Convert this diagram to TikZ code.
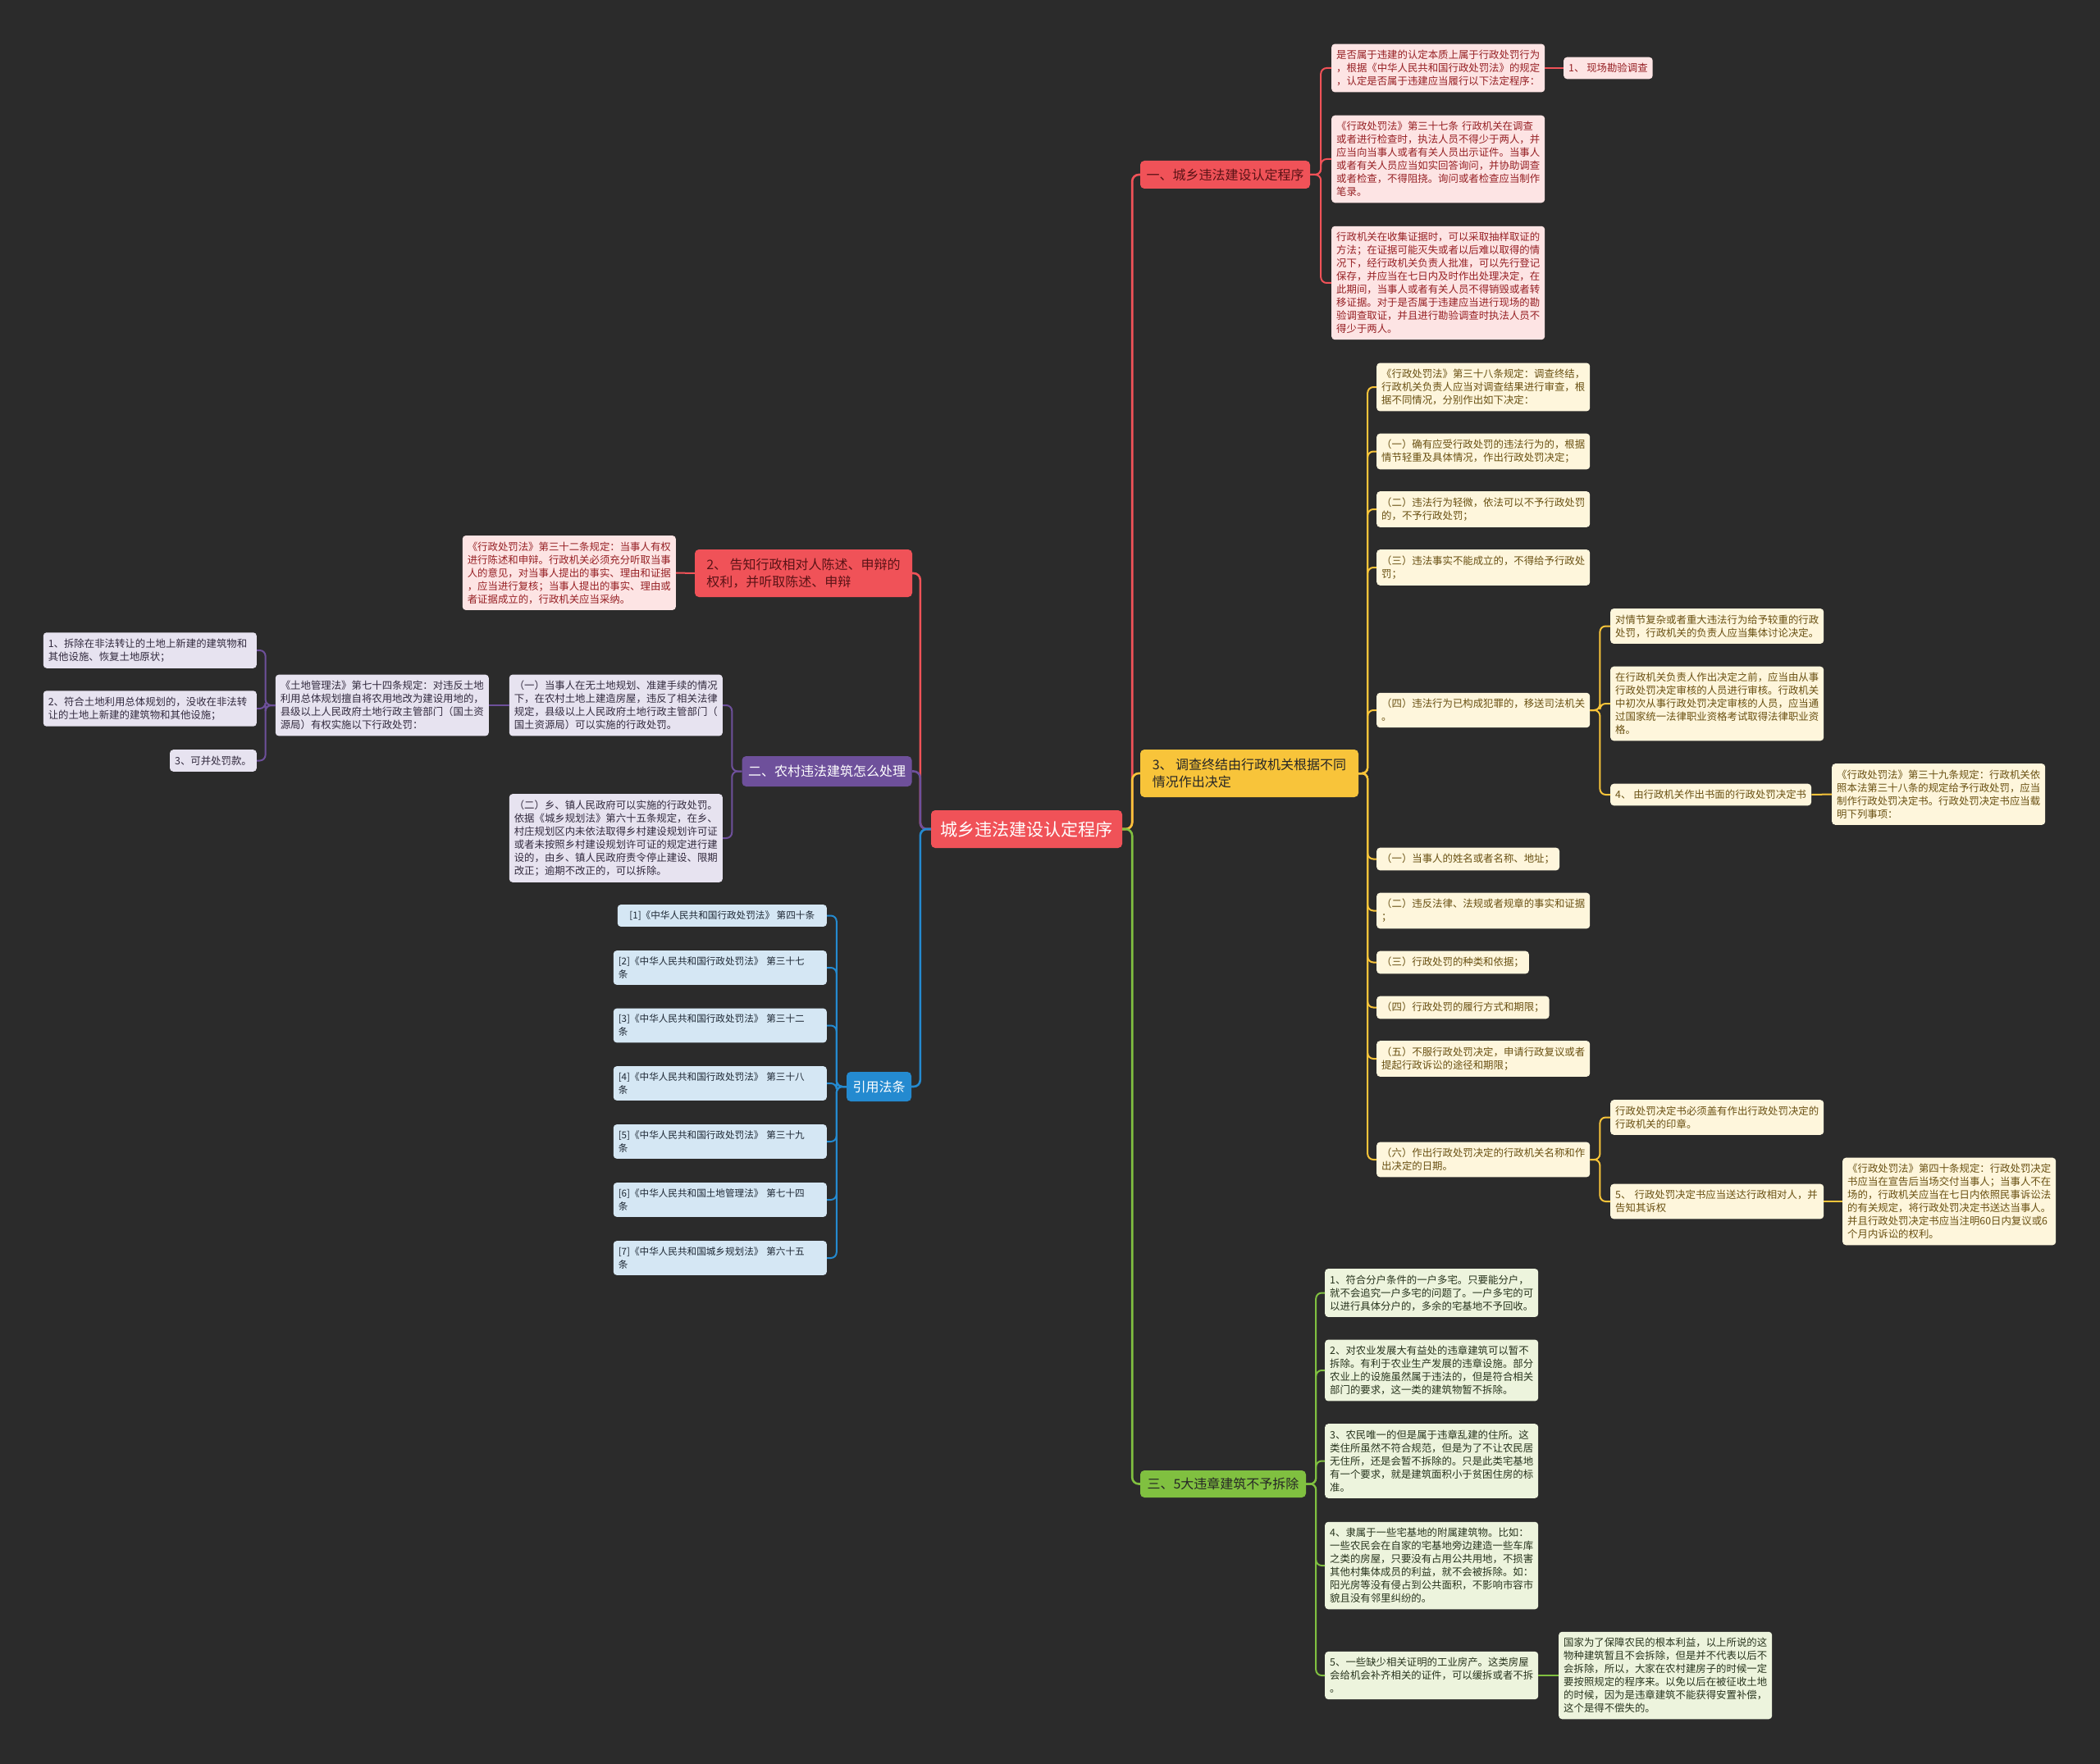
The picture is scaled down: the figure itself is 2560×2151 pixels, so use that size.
\documentclass[tikz,border=0pt]{standalone}
\usepackage{fontspec}
\setmainfont{Noto Sans CJK SC}
\definecolor{bgdark}{RGB}{43,43,43}
\definecolor{mapred}{RGB}{240,82,88}
\definecolor{redink}{RGB}{150,32,36}
\definecolor{redpale}{RGB}{253,228,228}
\definecolor{mapyel}{RGB}{248,196,58}
\definecolor{yelink}{RGB}{105,80,18}
\definecolor{yelpale}{RGB}{254,246,220}
\definecolor{mapgrn}{RGB}{128,192,64}
\definecolor{grnink}{RGB}{40,52,30}
\definecolor{grnpale}{RGB}{237,244,221}
\definecolor{mappur}{RGB}{110,80,155}
\definecolor{purink}{RGB}{50,42,62}
\definecolor{purpale}{RGB}{231,227,240}
\definecolor{mapblu}{RGB}{36,138,208}
\definecolor{bluink}{RGB}{30,40,52}
\definecolor{blupale}{RGB}{213,231,244}
\begin{document}
\begin{tikzpicture}[x=1pt, y=-1pt,
    every node/.append style={rounded corners=4pt, inner xsep=6pt, inner ysep=7.5pt, align=left},
    leaf/.style={font=\fontsize{12.4}{16}\selectfont},
    root/.style={fill=mapred, text=white, font=\fontsize{21}{25}\selectfont,
      minimum width=233pt, minimum height=46pt, align=center, rounded corners=5pt},
    branch/.style={font=\fontsize{16}{20.5}\selectfont, inner xsep=7pt, inner ysep=6pt, rounded corners=5pt},
    redbranch/.style={branch, fill=mapred, text=redink!60!black},
    yelbranch/.style={branch, fill=mapyel, text=black!85},
    grnbranch/.style={branch, fill=mapgrn, text=black!85},
    purbranch/.style={branch, fill=mappur, text=white},
    blubranch/.style={branch, fill=mapblu, text=white},
    redleaf/.style={leaf, fill=redpale, text=redink},
    redbox/.style={redleaf, text width=248pt},
    yelleaf/.style={leaf, fill=yelpale, text=yelink},
    yelbox/.style={yelleaf, text width=248pt},
    grnleaf/.style={leaf, fill=grnpale, text=grnink},
    grnbox/.style={grnleaf, text width=248pt},
    purleaf/.style={leaf, fill=purpale, text=purink},
    purbox/.style={purleaf, text width=248pt},
    bluleaf/.style={leaf, fill=blupale, text=bluink, font=\fontsize{11.6}{16}\selectfont},
    blubox/.style={bluleaf, text width=248pt},
    trunk/.style={line width=2.6pt, rounded corners=8pt},
    tie/.style={line width=2pt, rounded corners=7pt}]

    \useasboundingbox (0,0) rectangle (2560,2151);
    \fill[bgdark] (0,0) rectangle (2560,2151);

    \node[root] (root) at (1251.5,1011) {城乡违法建设认定程序};

    \node[redbranch, minimum width=207pt, minimum height=34pt] (b1) at (1493.5,213) {一、城乡违法建设认定程序};
    \node[redbranch, minimum width=265pt, minimum height=58pt] (b2) at (979.5,699) {2、 告知行政相对人陈述、申辩的\\权利，并听取陈述、申辩};
    \node[purbranch, minimum width=207pt, minimum height=37pt] (b3) at (1008,940.5) {二、农村违法建筑怎么处理};
    \node[blubranch, minimum width=79pt, minimum height=36pt, align=center] (b4) at (1071.5,1325) {引用法条};
    \node[yelbranch, minimum width=266pt, minimum height=58pt] (b5) at (1523,943) {3、 调查终结由行政机关根据不同\\情况作出决定};
    \node[grnbranch, minimum width=202pt, minimum height=33pt] (b6) at (1491,1809.5) {三、5大违章建筑不予拆除};

    \node[redbox, anchor=west] (a1) at (1623,83) {是否属于违建的认定本质上属于行政处罚行为\\，根据《中华人民共和国行政处罚法》的规定\\，认定是否属于违建应当履行以下法定程序：};
    \node[redleaf, anchor=west] (a1s) at (1906,83) {1、 现场勘验调查};
    \node[redbox, anchor=west] (a2) at (1623,194) {《行政处罚法》第三十七条 行政机关在调查\\或者进行检查时，执法人员不得少于两人，并\\应当向当事人或者有关人员出示证件。当事人\\或者有关人员应当如实回答询问，并协助调查\\或者检查，不得阻挠。询问或者检查应当制作\\笔录。};
    \node[redbox, anchor=west] (a3) at (1623,345) {行政机关在收集证据时，可以采取抽样取证的\\方法；在证据可能灭失或者以后难以取得的情\\况下，经行政机关负责人批准，可以先行登记\\保存，并应当在七日内及时作出处理决定，在\\此期间，当事人或者有关人员不得销毁或者转\\移证据。对于是否属于违建应当进行现场的勘\\验调查取证，并且进行勘验调查时执法人员不\\得少于两人。};
    \node[redbox, anchor=east] (rc) at (824,698.5) {《行政处罚法》第三十二条规定：当事人有权\\进行陈述和申辩。行政机关必须充分听取当事\\人的意见，对当事人提出的事实、理由和证据\\，应当进行复核；当事人提出的事实、理由或\\者证据成立的，行政机关应当采纳。};

    \node[yelbox, anchor=west] (y1) at (1678,472) {《行政处罚法》第三十八条规定：调查终结，\\行政机关负责人应当对调查结果进行审查，根\\据不同情况，分别作出如下决定：};
    \node[yelbox, anchor=west] (y2) at (1678,550.5) {（一）确有应受行政处罚的违法行为的，根据\\情节轻重及具体情况，作出行政处罚决定；};
    \node[yelbox, anchor=west] (y3) at (1678,621) {（二）违法行为轻微，依法可以不予行政处罚\\的，不予行政处罚；};
    \node[yelbox, anchor=west] (y4) at (1678,692) {（三）违法事实不能成立的，不得给予行政处\\罚；};
    \node[yelbox, anchor=west] (y5) at (1678,866) {（四）违法行为已构成犯罪的，移送司法机关\\。};
    \node[yelbox, anchor=west] (c1) at (1963,763.5) {对情节复杂或者重大违法行为给予较重的行政\\处罚，行政机关的负责人应当集体讨论决定。};
    \node[yelbox, anchor=west] (c2) at (1963,858) {在行政机关负责人作出决定之前，应当由从事\\行政处罚决定审核的人员进行审核。行政机关\\中初次从事行政处罚决定审核的人员，应当通\\过国家统一法律职业资格考试取得法律职业资\\格。};
    \node[yelleaf, anchor=west] (c3) at (1963,969) {4、 由行政机关作出书面的行政处罚决定书};
    \node[yelbox, anchor=west] (d1) at (2233,968.5) {《行政处罚法》第三十九条规定：行政机关依\\照本法第三十八条的规定给予行政处罚，应当\\制作行政处罚决定书。行政处罚决定书应当载\\明下列事项：};
    \node[yelleaf, anchor=west] (y6) at (1678,1047.5) {（一）当事人的姓名或者名称、地址；};
    \node[yelbox, anchor=west] (y7) at (1678,1110.5) {（二）违反法律、法规或者规章的事实和证据\\；};
    \node[yelleaf, anchor=west] (y8) at (1678,1173.5) {（三）行政处罚的种类和依据；};
    \node[yelleaf, anchor=west] (y9) at (1678,1228.5) {（四）行政处罚的履行方式和期限；};
    \node[yelbox, anchor=west] (y10) at (1678,1291) {（五）不服行政处罚决定，申请行政复议或者\\提起行政诉讼的途径和期限；};
    \node[yelbox, anchor=west] (y11) at (1678,1414) {（六）作出行政处罚决定的行政机关名称和作\\出决定的日期。};
    \node[yelbox, anchor=west] (e1) at (1963,1362.5) {行政处罚决定书必须盖有作出行政处罚决定的\\行政机关的印章。};
    \node[yelbox, anchor=west] (e2) at (1963,1465) {5、 行政处罚决定书应当送达行政相对人，并\\告知其诉权};
    \node[yelbox, anchor=west] (f1) at (2246,1465) {《行政处罚法》第四十条规定：行政处罚决定\\书应当在宣告后当场交付当事人；当事人不在\\场的，行政机关应当在七日内依照民事诉讼法\\的有关规定，将行政处罚决定书送达当事人。\\并且行政处罚决定书应当注明60日内复议或6\\个月内诉讼的权利。};

    \node[grnbox, anchor=west] (g1) at (1615,1576.5) {1、符合分户条件的一户多宅。只要能分户，\\就不会追究一户多宅的问题了。一户多宅的可\\以进行具体分户的，多余的宅基地不予回收。};
    \node[grnbox, anchor=west] (g2) at (1615,1671) {2、对农业发展大有益处的违章建筑可以暂不\\拆除。有利于农业生产发展的违章设施。部分\\农业上的设施虽然属于违法的，但是符合相关\\部门的要求，这一类的建筑物暂不拆除。};
    \node[grnbox, anchor=west] (g3) at (1615,1781.5) {3、农民唯一的但是属于违章乱建的住所。这\\类住所虽然不符合规范，但是为了不让农民居\\无住所，还是会暂不拆除的。只是此类宅基地\\有一个要求，就是建筑面积小于贫困住房的标\\准。};
    \node[grnbox, anchor=west] (g4) at (1615,1909) {4、隶属于一些宅基地的附属建筑物。比如：\\一些农民会在自家的宅基地旁边建造一些车库\\之类的房屋，只要没有占用公共用地，不损害\\其他村集体成员的利益，就不会被拆除。如：\\阳光房等没有侵占到公共面积，不影响市容市\\貌且没有邻里纠纷的。};
    \node[grnbox, anchor=west] (g5) at (1615,2043) {5、一些缺少相关证明的工业房产。这类房屋\\会给机会补齐相关的证件，可以缓拆或者不拆\\。};
    \node[grnbox, anchor=west] (g5n) at (1900,2043) {国家为了保障农民的根本利益，以上所说的这\\物种建筑暂且不会拆除，但是并不代表以后不\\会拆除，所以，大家在农村建房子的时候一定\\要按照规定的程序来。以免以后在被征收土地\\的时候，因为是违章建筑不能获得安置补偿，\\这个是得不偿失的。};

    \node[purbox, anchor=east] (p1) at (881,860) {（一）当事人在无土地规划、准建手续的情况\\下，在农村土地上建造房屋，违反了相关法律\\规定，县级以上人民政府土地行政主管部门（\\国土资源局）可以实施的行政处罚。};
    \node[purbox, anchor=east] (p2) at (596,860) {《土地管理法》第七十四条规定：对违反土地\\利用总体规划擅自将农用地改为建设用地的，\\县级以上人民政府土地行政主管部门（国土资\\源局）有权实施以下行政处罚：};
    \node[purbox, anchor=east] (q1) at (313,793) {1、拆除在非法转让的土地上新建的建筑物和\\其他设施、恢复土地原状；};
    \node[purbox, anchor=east] (q2) at (313,864) {2、符合土地利用总体规划的，没收在非法转\\让的土地上新建的建筑物和其他设施；};
    \node[purleaf, anchor=east] (q3) at (313,927.5) {3、可并处罚款。};
    \node[purbox, anchor=east] (p3) at (881,1022) {（二）乡、镇人民政府可以实施的行政处罚。\\依据《城乡规划法》第六十五条规定，在乡、\\村庄规划区内未依法取得乡村建设规划许可证\\或者未按照乡村建设规划许可证的规定进行建\\设的，由乡、镇人民政府责令停止建设、限期\\改正；逾期不改正的，可以拆除。};

    \node[bluleaf, anchor=east, minimum width=255pt] (r1) at (1008,1116.5) {[1]《中华人民共和国行政处罚法》 第四十条};
    \node[blubox, anchor=east] (r2) at (1008,1180) {[2]《中华人民共和国行政处罚法》 第三十七\\条};
    \node[blubox, anchor=east] (r3) at (1008,1250.5) {[3]《中华人民共和国行政处罚法》 第三十二\\条};
    \node[blubox, anchor=east] (r4) at (1008,1321) {[4]《中华人民共和国行政处罚法》 第三十八\\条};
    \node[blubox, anchor=east] (r5) at (1008,1392) {[5]《中华人民共和国行政处罚法》 第三十九\\条};
    \node[blubox, anchor=east] (r6) at (1008,1463) {[6]《中华人民共和国土地管理法》 第七十四\\条};
    \node[blubox, anchor=east] (r7) at (1008,1534) {[7]《中华人民共和国城乡规划法》 第六十五\\条};

    \draw[trunk, mapred] (root.east) -- ++(12,0) |- (b1.west);
    \draw[trunk, mapyel] (root.east) -- ++(12,0) |- (b5.west);
    \draw[trunk, mapgrn] (root.east) -- ++(12,0) |- (b6.west);
    \draw[trunk, mapred] (root.west) -- ++(-13,0) |- (b2.east);
    \draw[trunk, mappur] (root.west) -- ++(-13,0) |- (b3.east);
    \draw[trunk, mapblu] (root.west) -- ++(-13,0) |- (b4.east);

    \foreach \n in {a1,a2,a3}
      \draw[tie, mapred] (b1.east) -- ++(13,0) |- (\n.west);
    \draw[tie, mapred] (a1.east) -- (a1s.west);
    \draw[tie, mapred] (b2.west) -- (rc.east);

    \foreach \n in {y1,y2,y3,y4,y5,y6,y7,y8,y9,y10,y11}
      \draw[tie, mapyel] (b5.east) -- ++(11,0) |- (\n.west);
    \foreach \n in {c1,c2,c3}
      \draw[tie, mapyel] (y5.east) -- ++(12,0) |- (\n.west);
    \draw[tie, mapyel] (c3.east) -- (d1.west);
    \foreach \n in {e1,e2}
      \draw[tie, mapyel] (y11.east) -- ++(12,0) |- (\n.west);
    \draw[tie, mapyel] (e2.east) -- (f1.west);

    \foreach \n in {g1,g2,g3,g4,g5}
      \draw[tie, mapgrn] (b6.east) -- ++(12,0) |- (\n.west);
    \draw[tie, mapgrn] (g5.east) -- (g5n.west);

    \foreach \n in {p1,p3}
      \draw[tie, mappur] (b3.west) -- ++(-12,0) |- (\n.east);
    \draw[tie, mappur] (p1.west) -- (p2.east);
    \foreach \n in {q1,q2,q3}
      \draw[tie, mappur] (p2.west) -- ++(-12,0) |- (\n.east);

    \foreach \n in {r1,r2,r3,r4,r5,r6,r7}
      \draw[tie, mapblu] (b4.west) -- ++(-12,0) |- (\n.east);
\end{tikzpicture}
\end{document}
